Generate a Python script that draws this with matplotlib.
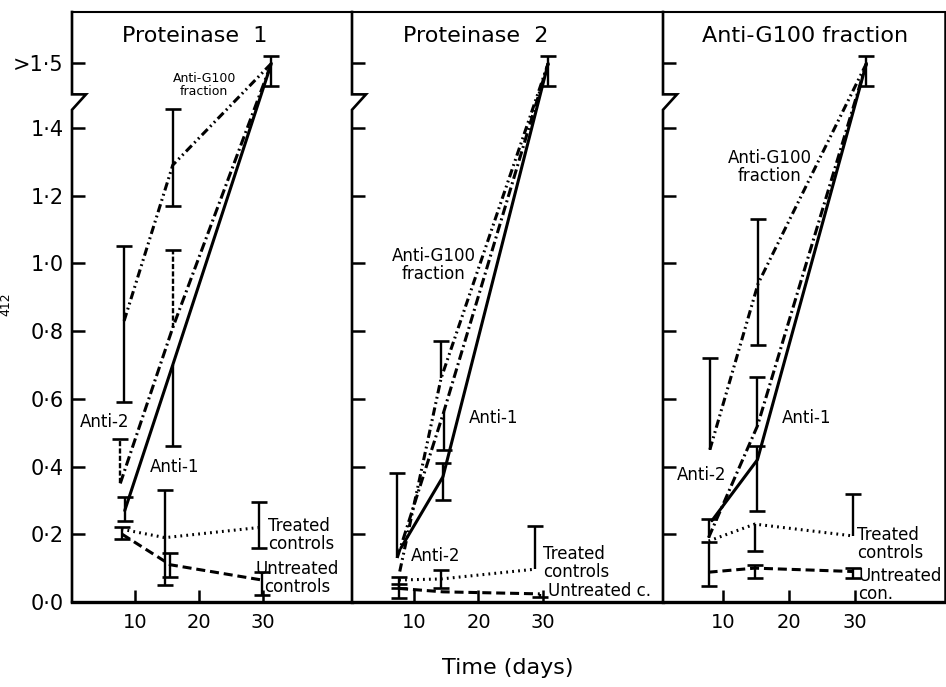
import numpy as np
import matplotlib
matplotlib.use("Agg")
import matplotlib.pyplot as plt

plt.rcParams['font.family'] = ['DejaVu Sans']
plt.rcParams['lines.scale_dashes'] = False

# ---- data: one row per panel (Proteinase 1, Proteinase 2, Anti-G100 fraction) ----
panel_titles = ["Proteinase  1", "Proteinase  2", "Anti-G100 fraction"]

g100_days = [[8.3, 15.9, 31.3], [7.8, 14.2, 30.8], [8.0, 15.3, 31.7]]
g100_vals = [[0.83, 1.29, 1.50], [0.09, 0.66, 1.50], [0.45, 0.94, 1.50]]
g100_lo = [[0.24, 0.12, 0.035], [0.0, 0.0, 0.035], [0.0, 0.18, 0.035]]
g100_hi = [[0.22, 0.14, 0.012], [0.0, 0.11, 0.012], [0.27, 0.19, 0.012]]

anti2_days = [[7.7, 15.9, 31.3], [7.4, 14.6, 30.8], [7.8, 15.2, 31.7]]
anti2_vals = [[0.35, 0.81, 1.50], [0.13, 0.56, 1.50], [0.19, 0.52, 1.50]]
anti2_lo = [[0.0, 0.0, 0.0], [0.0, 0.11, 0.0], [0.0, 0.0, 0.0]]
anti2_hi = [[0.13, 0.23, 0.0], [0.25, 0.0, 0.0], [0.055, 0.145, 0.0]]

anti1_days = [[8.4, 15.9, 31.3], [8.0, 14.5, 30.8], [8.3, 15.2, 31.7]]
anti1_vals = [[0.27, 0.70, 1.50], [0.16, 0.37, 1.50], [0.24, 0.42, 1.50]]
anti1_lo = [[0.03, 0.24, 0.0], [0.0, 0.07, 0.0], [0.0, 0.15, 0.0]]
anti1_hi = [[0.04, 0.0, 0.0], [0.0, 0.04, 0.0], [0.0, 0.04, 0.0]]

treated_days = [[7.9, 14.7, 29.4], [7.7, 14.2, 28.8], [7.8, 14.8, 29.7]]
treated_vals = [[0.215, 0.19, 0.22], [0.065, 0.068, 0.097], [0.18, 0.23, 0.195]]
treated_lo = [[0.0, 0.14, 0.06], [0.025, 0.027, 0.0], [0.0, 0.08, 0.0]]
treated_hi = [[0.0, 0.14, 0.075], [0.01, 0.026, 0.127], [0.0, 0.0, 0.125]]

untreated_days = [[8.0, 15.5, 29.8], [7.7, 14.5, 29.5], [7.8, 14.8, 29.7]]
untreated_vals = [[0.20, 0.11, 0.065], [0.04, 0.03, 0.024], [0.088, 0.10, 0.09]]
untreated_lo = [[0.015, 0.035, 0.045], [0.028, 0.0, 0.01], [0.04, 0.03, 0.02]]
untreated_hi = [[0.02, 0.035, 0.025], [0.013, 0.0, 0.0], [0.09, 0.01, 0.01]]

y_ticks = [0.0, 0.2, 0.4, 0.6, 0.8, 1.0, 1.2, 1.4, 1.5]
y_tick_labels = ["0·0", "0·2", "0·4", "0·6", "0·8", "1·0", "1·2", "1·4", ">1·5"]
x_ticks = [10, 20, 30]
x_tick_labels = ["10", "20", "30"]

# ---- broken y axis: values above 1.4 are drawn on a stretched segment ----
K = 1.9


def fwd(y):
    y = np.asarray(y, dtype=float)
    return np.where(y <= 1.4, y, 1.4 + K * (y - 1.4))


def inv(d):
    d = np.asarray(d, dtype=float)
    return np.where(d <= 1.4, d, 1.4 + (d - 1.4) / K)


series = [
    (g100_days, g100_vals, g100_lo, g100_hi, dict(dashes=(6, 2.6, 1.3, 2.6, 1.3, 2.6))),
    (anti2_days, anti2_vals, anti2_lo, anti2_hi, dict(dashes=(7, 2.6, 1.4, 2.6))),
    (anti1_days, anti1_vals, anti1_lo, anti1_hi, dict(linestyle='-')),
    (treated_days, treated_vals, treated_lo, treated_hi, dict(dashes=(1.3, 3.0))),
    (untreated_days, untreated_vals, untreated_lo, untreated_hi, dict(dashes=(6.5, 3.5))),
]

W, H = 946, 687
fig = plt.figure(figsize=(W / 100, H / 100), dpi=100)
fig.patch.set_facecolor('white')

panel_px = [(72, 280), (352, 311), (663, 282)]
xlims = [(0.16, 43.9), (0.4, 48.6), (0.9, 43.6)]
bottom_px, height_px = 85, 590

labels = [
    [("Anti-G100\nfraction", 20.8, 1.466, 'center', 9),
     ("Anti-2", 5.3, 0.531, 'center', 12),
     ("Anti-1", 16.25, 0.40, 'center', 12),
     ("Treated\ncontrols", 30.8, 0.198, 'left', 12),
     ("Untreated\ncontrols", 35.3, 0.071, 'center', 12)],
    [("Anti-G100\nfraction", 13.1, 0.994, 'center', 12),
     ("Anti-1", 22.4, 0.543, 'center', 12),
     ("Anti-2", 13.4, 0.136, 'center', 12),
     ("Treated\ncontrols", 30.0, 0.115, 'left', 12),
     ("Untreated c.", 30.8, 0.032, 'left', 12)],
    [("Anti-G100\nfraction", 17.1, 1.283, 'center', 12),
     ("Anti-1", 22.6, 0.543, 'center', 12),
     ("Anti-2", 6.7, 0.375, 'center', 12),
     ("Treated\ncontrols", 30.3, 0.171, 'left', 12),
     ("Untreated\ncon.", 30.5, 0.050, 'left', 12)],
]
title_x = [0.439, 0.399, 0.504]

for p, ((left, width), xl) in enumerate(zip(panel_px, xlims)):
    ax = fig.add_axes([left / W, bottom_px / H, width / W, height_px / H])
    ax.set_yscale('function', functions=(fwd, inv))
    ax.set_xlim(*xl)
    ax.set_ylim(0, 1.58)

    for days, vals, lo, hi, style in series:
        ax.plot(days[p], vals[p], color='k', lw=2.2, dash_capstyle='butt',
                solid_capstyle='round', **style)
        bar_ls = '--' if (series[1][0] is days and p == 0) else '-'
        for x, v, l, h in zip(days[p], vals[p], lo[p], hi[p]):
            if l <= 0 and h <= 0:
                continue
            ax.vlines(x, v - l, v + h, color='k', lw=1.7, linestyles=bar_ls)
            if h > 0:
                ax.plot([x], [v + h], marker='_', ms=11, mew=1.9, color='k')
            if l > 0:
                ax.plot([x], [v - l], marker='_', ms=11, mew=1.9, color='k')

    for txt, x, y, ha, fs in labels[p]:
        ax.text(x, y, txt, ha=ha, va='center', fontsize=fs, linespacing=1.0)

    ax.text(title_x[p], 0.959, panel_titles[p], transform=ax.transAxes,
            ha='center', va='center', fontsize=16)

    # spines: left drawn by hand with the axis-break notch
    ax.spines['left'].set_visible(False)
    ax.spines['right'].set_visible(p == 2)
    ax.spines['right'].set_linewidth(1.8)
    ax.spines['top'].set_linewidth(1.5)
    ax.spines['bottom'].set_linewidth(2.4)
    dx = 14.0 / width
    ax.plot([0, 0, dx, 0, 0], [0, 1.428, 1.452, 1.452, 1.58], color='k', lw=1.9,
            transform=ax.get_yaxis_transform(), clip_on=False, solid_joinstyle='miter')

    ax.set_yticks(y_ticks)
    ax.set_yticklabels(y_tick_labels if p == 0 else [])
    ax.set_xticks(x_ticks)
    ax.set_xticklabels(x_tick_labels)
    ax.tick_params(axis='y', direction='in', length=9, width=1.8, labelsize=15, pad=6,
                   left=True, right=False)
    ax.tick_params(axis='x', direction='in', length=9, width=1.8, labelsize=14, pad=8)
    ax.minorticks_off()

fig.text(508 / W, 1 - 668 / H, "Time (days)", ha='center', va='center', fontsize=16)
fig.text(6 / W, 1 - 304 / H, "412", rotation=90, ha='center', va='center', fontsize=9)

fig.savefig("out.png", dpi=100, facecolor='white')
